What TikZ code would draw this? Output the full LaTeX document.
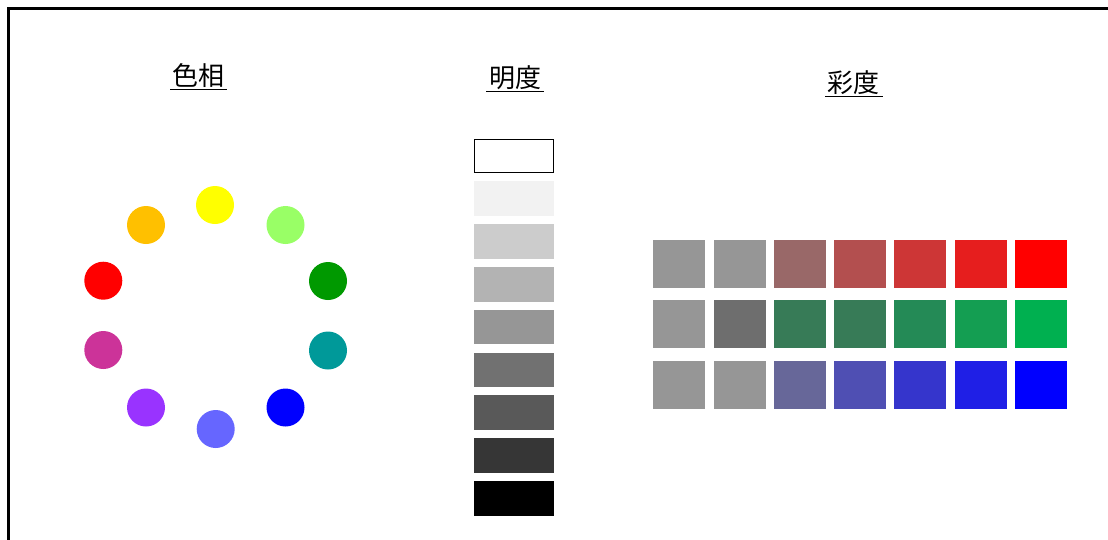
\documentclass[tikz,border=0pt]{standalone}
\usepackage{fontspec}
\newfontfamily\cjk{Noto Sans CJK JP}
\definecolor{cYel}{HTML}{FFFF00}
\definecolor{cLgr}{HTML}{99FF66}
\definecolor{cOra}{HTML}{FFC000}
\definecolor{cRed}{HTML}{FF0000}
\definecolor{cDgr}{HTML}{009900}
\definecolor{cMag}{HTML}{CC3399}
\definecolor{cTea}{HTML}{009999}
\definecolor{cPur}{HTML}{9933FF}
\definecolor{cBlu}{HTML}{0000FF}
\definecolor{cPer}{HTML}{6666FF}
\begin{document}
\begin{tikzpicture}[x=1pt,y=-1pt,
  title/.style={font=\cjk\fontsize{26}{28}\selectfont, inner sep=0pt, anchor=center},
  uline/.style={line width=1.6pt},
  dot/.style={circle, minimum size=38pt, inner sep=0pt, draw=none},
  bar/.style={minimum width=80pt, minimum height=34.5pt, inner sep=0pt, anchor=north west, draw=none},
  sq/.style={minimum width=52pt, minimum height=47.5pt, inner sep=0pt, anchor=north west, draw=none}]
\useasboundingbox (0,0) rectangle (1108,539);
\begin{scope}
\clip (0,0) rectangle (1108,539);
\draw[line width=2.5pt] (8.7,580) -- (8.7,8.7) -- (1130,8.7);
\end{scope}
% titles
\node[title] (t1) at (198.5,76) {色相};
\draw[uline] (170,89.5) coordinate (u1a) -- (227,89.5) coordinate (u1b);
\node[title] (t2) at (515,77.5) {明度};
\draw[uline] (486,91.5) coordinate (u2a) -- (544,91.5) coordinate (u2b);
\node[title] (t3) at (853.5,82.5) {彩度};
\draw[uline] (825,96.5) coordinate (u3a) -- (883,96.5) coordinate (u3b);
% hue circle
\node[dot, fill=cYel] (h1) at (215,205) {};
\node[dot, fill=cLgr] (h2) at (285.5,225) {};
\node[dot, fill=cDgr] (h3) at (328,281) {};
\node[dot, fill=cTea] (h4) at (328,350.5) {};
\node[dot, fill=cBlu] (h5) at (285.5,407.5) {};
\node[dot, fill=cPer] (h6) at (215.7,429) {};
\node[dot, fill=cPur] (h7) at (146,407.5) {};
\node[dot, fill=cMag] (h8) at (103.3,350) {};
\node[dot, fill=cRed] (h9) at (103.3,280.7) {};
\node[dot, fill=cOra] (h10) at (146,225) {};
% value bars
\node[bar, fill=white, draw=black, line width=1pt, minimum width=79pt, minimum height=33.5pt] (v1) at (474,138.5) {};
\node[bar, fill={rgb,255:red,242;green,242;blue,242}] (v2) at (474,181) {};
\node[bar, fill={rgb,255:red,204;green,204;blue,204}] (v3) at (474,224) {};
\node[bar, fill={rgb,255:red,179;green,179;blue,179}] (v4) at (474,267) {};
\node[bar, fill={rgb,255:red,150;green,150;blue,150}] (v5) at (474,309.5) {};
\node[bar, fill={rgb,255:red,113;green,113;blue,113}] (v6) at (474,352.5) {};
\node[bar, fill={rgb,255:red,89;green,89;blue,89}] (v7) at (474,395) {};
\node[bar, fill={rgb,255:red,54;green,54;blue,54}] (v8) at (474,438) {};
\node[bar, fill=black] (v9) at (474,481) {};
% saturation grid
\foreach \c [count=\i from 0] in {969696,969696,996868,B34F4F,CD3636,E61E1E,FF0000}{
  \definecolor{sqc}{HTML}{\c}
  \node[sq, fill=sqc] (sr\i) at (653+60.3*\i,240) {};}
\foreach \c [count=\i from 0] in {969696,6E6E6E,377B57,377B57,248A56,149E52,00B050}{
  \definecolor{sqc}{HTML}{\c}
  \node[sq, fill=sqc] (sg\i) at (653+60.3*\i,300) {};}
\foreach \c [count=\i from 0] in {969696,969696,676799,4F4FB3,3535CC,1F1FE6,0000FF}{
  \definecolor{sqc}{HTML}{\c}
  \node[sq, fill=sqc] (sb\i) at (653+60.3*\i,361) {};}
\end{tikzpicture}
\end{document}
